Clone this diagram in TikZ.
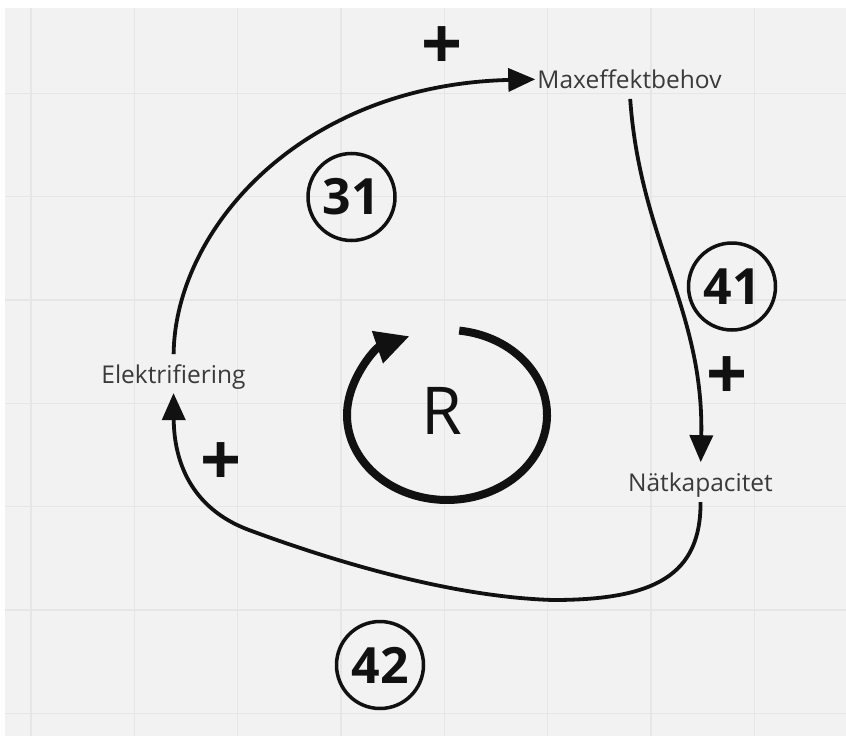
\documentclass[tikz,border=0pt]{standalone}
\usepackage{fontspec}
\setmainfont{Open Sans}
\usetikzlibrary{arrows.meta}
\definecolor{bggray}{HTML}{F2F2F2}
\definecolor{gridgray}{HTML}{E6E6E6}
\definecolor{ink}{HTML}{111111}
\definecolor{labelgray}{HTML}{3A3A3A}

\begin{document}
\begin{tikzpicture}[x=1pt,y=-1pt,
  labeltext/.style={inner sep=0pt, anchor=base, text=labelgray, font=\fontsize{24.5}{28}\selectfont},
  link/.style={draw=ink, line width=3.8pt, -{Triangle[length=27pt,width=23pt]}},
  polarity/.style={inner sep=0pt, text=ink, font=\fontsize{72}{76}\selectfont\bfseries},
  loopid/.style={circle, draw=ink, line width=3.5pt, minimum size=87pt, inner sep=0pt, text=ink, font=\fontsize{50}{56}\selectfont\bfseries},
]
\useasboundingbox (0,0) rectangle (846,736);
\fill[white] (0,0) rectangle (846,736);
\fill[bggray] (5,8) rectangle (846,736);
% board grid
\foreach \k in {0,...,7} \draw[gridgray, line width=1.5pt] ({31+103.33*\k},8) -- ({31+103.33*\k},736);
\foreach \k in {0,...,6} \draw[gridgray, line width=1.5pt] (5,{93.33+103.33*\k}) -- (846,{93.33+103.33*\k});

% variables
\node[labeltext] (e) at (173.5,383) {Elektrifiering};
\node[labeltext] (m) at (629.5,88.5) {Maxeffektbehov};
\node[labeltext] (n) at (700.5,491) {Nätkapacitet};

% causal links
\draw[link, shorten <=10pt, shorten >=2pt] (e.north) .. controls (175,230) and (300,85) .. (m.west);
\draw[link, shorten <=10pt, shorten >=10pt] (m.south) .. controls (640,240) and (704,310) .. (n.north);
\draw[link, shorten <=5pt, shorten >=4pt] (n.south) .. controls (701,575) and (655,600) .. (553,600)
  .. controls (450,597) and (330,560) .. (249,530)
  .. controls (190,508) and (174,460) .. (e.south);

% polarity signs
\node[polarity] (p1) at (442,48) {+};
\node[polarity] (p2) at (727,378) {+};
\node[polarity] (p3) at (221,464) {+};

% reinforcing loop marker
\draw[ink, line width=8pt, -{Triangle[length=34pt,width=32pt]}] (459.2,330.6) arc[start angle=83, end angle=-248, x radius=100pt, y radius=85pt];
\node[text=ink, inner sep=0pt, font=\fontsize{66}{70}\selectfont] (r) at (442,411) {R};

% loop identifiers
\node[loopid] (l31) at (351.5,197) {31};
\node[loopid] (l41) at (732,286.5) {41};
\node[loopid] (l42) at (380,665) {42};
\end{tikzpicture}
\end{document}
